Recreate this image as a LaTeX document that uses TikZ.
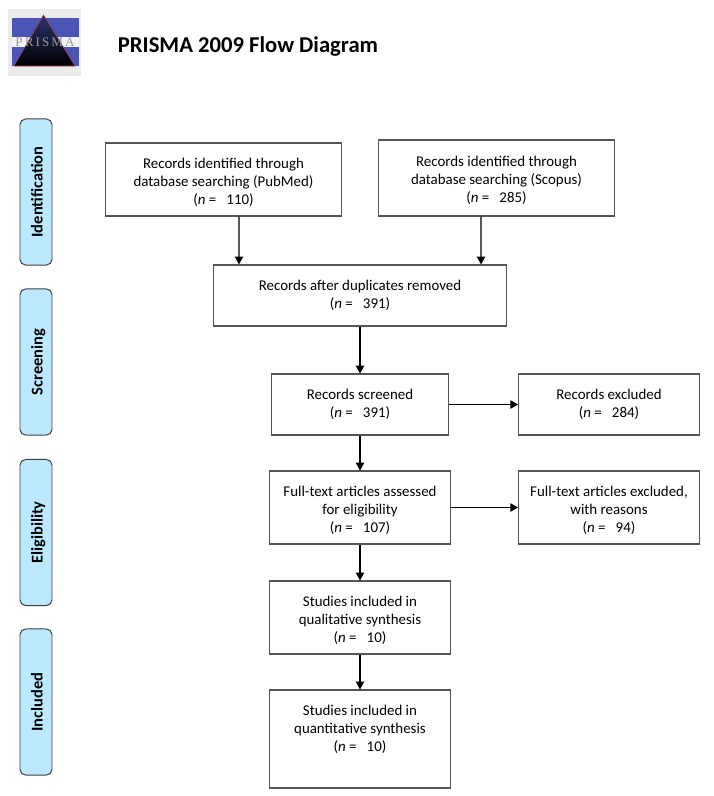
\documentclass[tikz,border=0pt]{standalone}
\usepackage{fontspec}
\setmainfont{Carlito}
\newfontfamily\logofont[LetterSpace=16]{Liberation Serif}
\usetikzlibrary{arrows.meta,shadings}
\definecolor{stagefill}{HTML}{BDE9FF}
\definecolor{edgegray}{HTML}{555555}
\definecolor{logoblue}{HTML}{4A55B5}
\definecolor{logored}{HTML}{A04050}
\newcommand{\lowtext}{\rule{0pt}{11.2pt}}
\tikzset{
  recbox/.style={rectangle,draw=edgegray,line width=0.75pt,align=center,inner sep=0pt,font=\fontsize{10.6}{12.9}\selectfont},
  stagebox/.style={rectangle,rounded corners=4pt,draw=black!75,line width=0.7pt,fill=stagefill,rotate=90,
    minimum width=3.65cm,minimum height=0.8cm,inner sep=0pt,text height=9.5pt,text depth=0pt,
    font=\fontsize{11.7}{13}\selectfont\bfseries},
  flow/.style={-{Triangle[length=5.6pt,width=6pt]},black,line width=0.8pt}
}
\begin{document}
\begin{tikzpicture}[x=0.025cm,y=-0.025cm]
        \useasboundingbox (0,0) rectangle (713,796);
        % logo
        \fill[black!8] (8,9) rectangle (81,76);
        \fill[logoblue] (12,18) rectangle (79,66);
        \fill[white!92!gray] (12,37) rectangle (79,47);
        \shade[top color=logoblue!60!black,bottom color=black,draw=logored,line width=0.4pt] (43.5,15) -- (75,66) -- (14,66) -- cycle;
        \node at (45,42) [font=\logofont\fontsize{9.3}{10}\selectfont,text=black!40,inner sep=0pt] (logotext) {PRISMA};
        \node at (248,46) [font=\fontsize{16.1}{18}\selectfont\bfseries,inner sep=0pt] (title) {PRISMA 2009 Flow Diagram};
        % stages
        \node at (36,192) [stagebox] (s1) {Identification};
        \node at (36,362) [stagebox] (s2) {Screening};
        \node at (36,532.5) [stagebox] (s3) {Eligibility};
        \node at (36,702) [stagebox] (s4) {Included};
        % boxes
        \node at (223.5,179.5) [recbox,minimum width=5.89cm,minimum height=1.825cm] (pubmed) {\lowtext Records identified through\\database searching (PubMed)\\(\textit{n} =~~~110)};
        \node at (496.5,178) [recbox,minimum width=5.89cm,minimum height=1.9cm] (scopus) {\lowtext Records identified through\\database searching (Scopus)\\(\textit{n} =~~~285)};
        \node at (360,295.5) [recbox,minimum width=7.315cm,minimum height=1.525cm] (dedup) {Records after duplicates removed\\(\textit{n} =~~~391)\\[-10.9pt]};
        \node at (360,404.5) [recbox,minimum width=4.415cm,minimum height=1.525cm] (screened) {Records screened\\(\textit{n} =~~~391)\\[-10.9pt]};
        \node at (609,404.5) [recbox,minimum width=4.515cm,minimum height=1.525cm] (excluded) {Records excluded\\(\textit{n} =~~~284)\\[-10.9pt]};
        \node at (360,507.5) [recbox,minimum width=4.515cm,minimum height=1.825cm] (fulltext) {\lowtext Full-text articles assessed\\for eligibility\\(\textit{n} =~~~107)};
        \node at (609,507.5) [recbox,minimum width=4.515cm,minimum height=1.825cm] (reasons) {\lowtext Full-text articles excluded,\\with reasons\\(\textit{n} =~~~94)};
        \node at (360,617.5) [recbox,minimum width=4.515cm,minimum height=1.825cm] (quali) {\lowtext Studies included in\\qualitative synthesis\\(\textit{n} =~~~10)};
        \node at (360,739) [recbox,minimum width=4.515cm,minimum height=2.45cm] (quanti) {Studies included in\\quantitative synthesis\\(\textit{n} =~~~10)\\[2.4pt]};
        % connectors
        \draw[flow] ([xshift=0.3875cm]pubmed.south) -- ([xshift=-3.025cm]dedup.north);
        \draw[flow] ([xshift=-0.3875cm]scopus.south) -- ([xshift=3.025cm]dedup.north);
        \draw[flow] (dedup) -- (screened);
        \draw[flow] (screened) -- (excluded);
        \draw[flow] (screened) -- (fulltext);
        \draw[flow] (fulltext) -- (reasons);
        \draw[flow] (fulltext) -- (quali);
        \draw[flow] (quali) -- (quanti);
\end{tikzpicture}
\end{document}
